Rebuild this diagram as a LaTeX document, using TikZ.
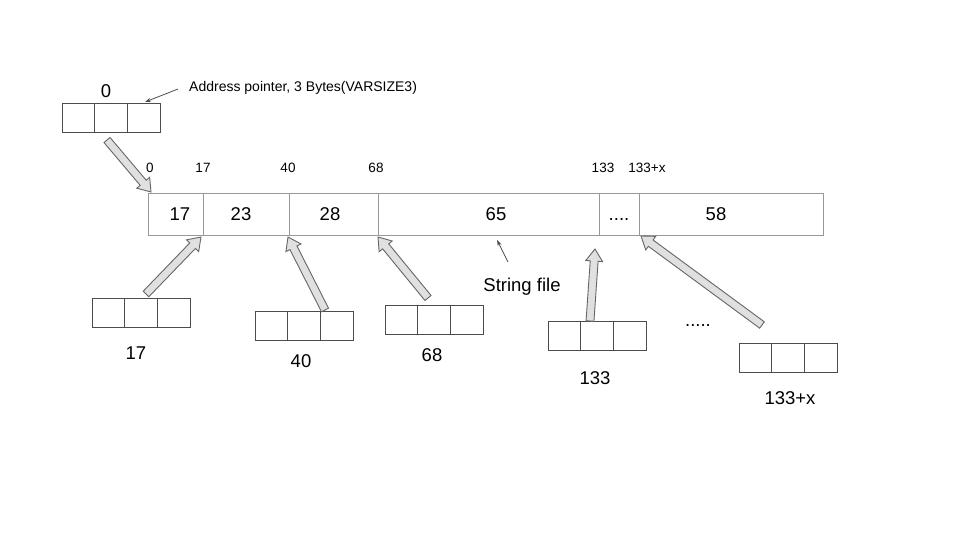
\documentclass[tikz,border=0pt]{standalone}
\usepackage{fontspec}
\setmainfont{Liberation Sans}
\usetikzlibrary{shapes.arrows,calc,arrows.meta}
\tikzset{
  cell/.style={draw=black!70, line width=0.9pt, minimum width=32.7pt, minimum height=29pt, inner sep=0pt, outer sep=0pt},
  seg/.style={draw=black!40, line width=0.9pt, minimum height=42pt, inner sep=0pt, outer sep=0pt},
  segtext/.style={inner sep=0pt, text height=13.5pt, text depth=0pt, font=\fontsize{18.5}{20}\selectfont},
  small/.style={font=\fontsize{13.5}{15}\selectfont, inner sep=0pt},
  note/.style={font=\fontsize{14}{16}\selectfont, inner sep=0pt},
  big/.style={font=\fontsize{18.5}{20}\selectfont, inner sep=0pt},
  fat/.style={single arrow, draw=black!60, line width=0.9pt, fill=black!12, inner sep=3.5pt, single arrow head extend=4.5pt, single arrow tip angle=70, outer sep=0pt},
  thin/.style={draw=black!70, line width=0.8pt, -{Stealth[length=6pt,width=4pt]}}
}
\newcommand\fatarrow[2]{\path let \p1=(#1), \p2=(#2), \n1={atan2(\y2-\y1,\x2-\x1)}, \n2={veclen(\x2-\x1,\y2-\y1)} in node[fat, minimum height=\n2, rotate=\n1, anchor=tail] at (\p1) {};}
\newcommand\threebox[2]{%
  \node[cell, anchor=north west] (#1a) at (#2) {};
  \node[cell, anchor=west] (#1b) at (#1a.east) {};
  \node[cell, anchor=west] (#1c) at (#1b.east) {};}
\begin{document}
\begin{tikzpicture}[x=1pt,y=-1pt]
\useasboundingbox (0,0) rectangle (960,540);
% top pointer box
\threebox{t}{62,103}
\node[big] (t0) at (106,91) {0};
\node[note, anchor=west] (addr) at (189,88) {Address pointer, 3 Bytes(VARSIZE3)};
\coordinate (addrtail) at (178,89);
\coordinate (addrtip) at (145,102);
\draw[thin] (addrtail) -- (addrtip);
% offsets
\node[small] (o0) at (150,168) {0};
\node[small] (o17) at (203,168) {17};
\node[small] (o40) at (288,168) {40};
\node[small] (o68) at (376,168) {68};
\node[small] (o133) at (603,168) {133};
\node[small] (o133x) at (647,168) {133+x};
% string file strip
\node[seg, minimum width=55pt] (s1) at (175.5,214) {};
\node[seg, minimum width=86pt] (s2) at (246,214) {};
\node[seg, minimum width=89pt] (s3) at (333.5,214) {};
\node[seg, minimum width=221pt] (s4) at (488.5,214) {};
\node[seg, minimum width=40pt] (s5) at (619,214) {};
\node[seg, minimum width=184pt] (s6) at (731,214) {};
\node[segtext] (s1t) at (180,214) {17};
\node[segtext] (s2t) at (241,214) {23};
\node[segtext] (s3t) at (330,214) {28};
\node[segtext] (s4t) at (496,214) {65};
\node[segtext] (s5t) at (619,214) {....};
\node[segtext] (s6t) at (716,214) {58};
% bottom boxes
\threebox{a}{92,298}
\threebox{b}{255,311}
\threebox{c}{385,305}
\threebox{d}{548,321}
\threebox{e}{739,343}
\node[big] (la) at (136,353) {17};
\node[big] (lb) at (301,361) {40};
\node[big] (lc) at (432,355) {68};
\node[big] (ld) at (595,378) {133};
\node[big] (le) at (790,398) {133+x};
\node[big] (dots) at (698,326) {.....};
\node[big] (sf) at (522,287) {String file};
\coordinate (sftail) at (508,262);
\coordinate (sftip) at (497,240);
\draw[thin] (sftail) -- (sftip);
% fat arrows
\coordinate (p0t) at (107,140); \coordinate (p0h) at (151,192);
\coordinate (p1t) at (146,294); \coordinate (p1h) at (201,237);
\coordinate (p2t) at (325,310); \coordinate (p2h) at (288,237);
\coordinate (p3t) at (428,298); \coordinate (p3h) at (378,237);
\coordinate (p4t) at (590,321); \coordinate (p4h) at (595,249);
\coordinate (p5t) at (762,325); \coordinate (p5h) at (641,236);
\fatarrow{p0t}{p0h}
\fatarrow{p1t}{p1h}
\fatarrow{p2t}{p2h}
\fatarrow{p3t}{p3h}
\fatarrow{p4t}{p4h}
\fatarrow{p5t}{p5h}
\end{tikzpicture}
\end{document}
